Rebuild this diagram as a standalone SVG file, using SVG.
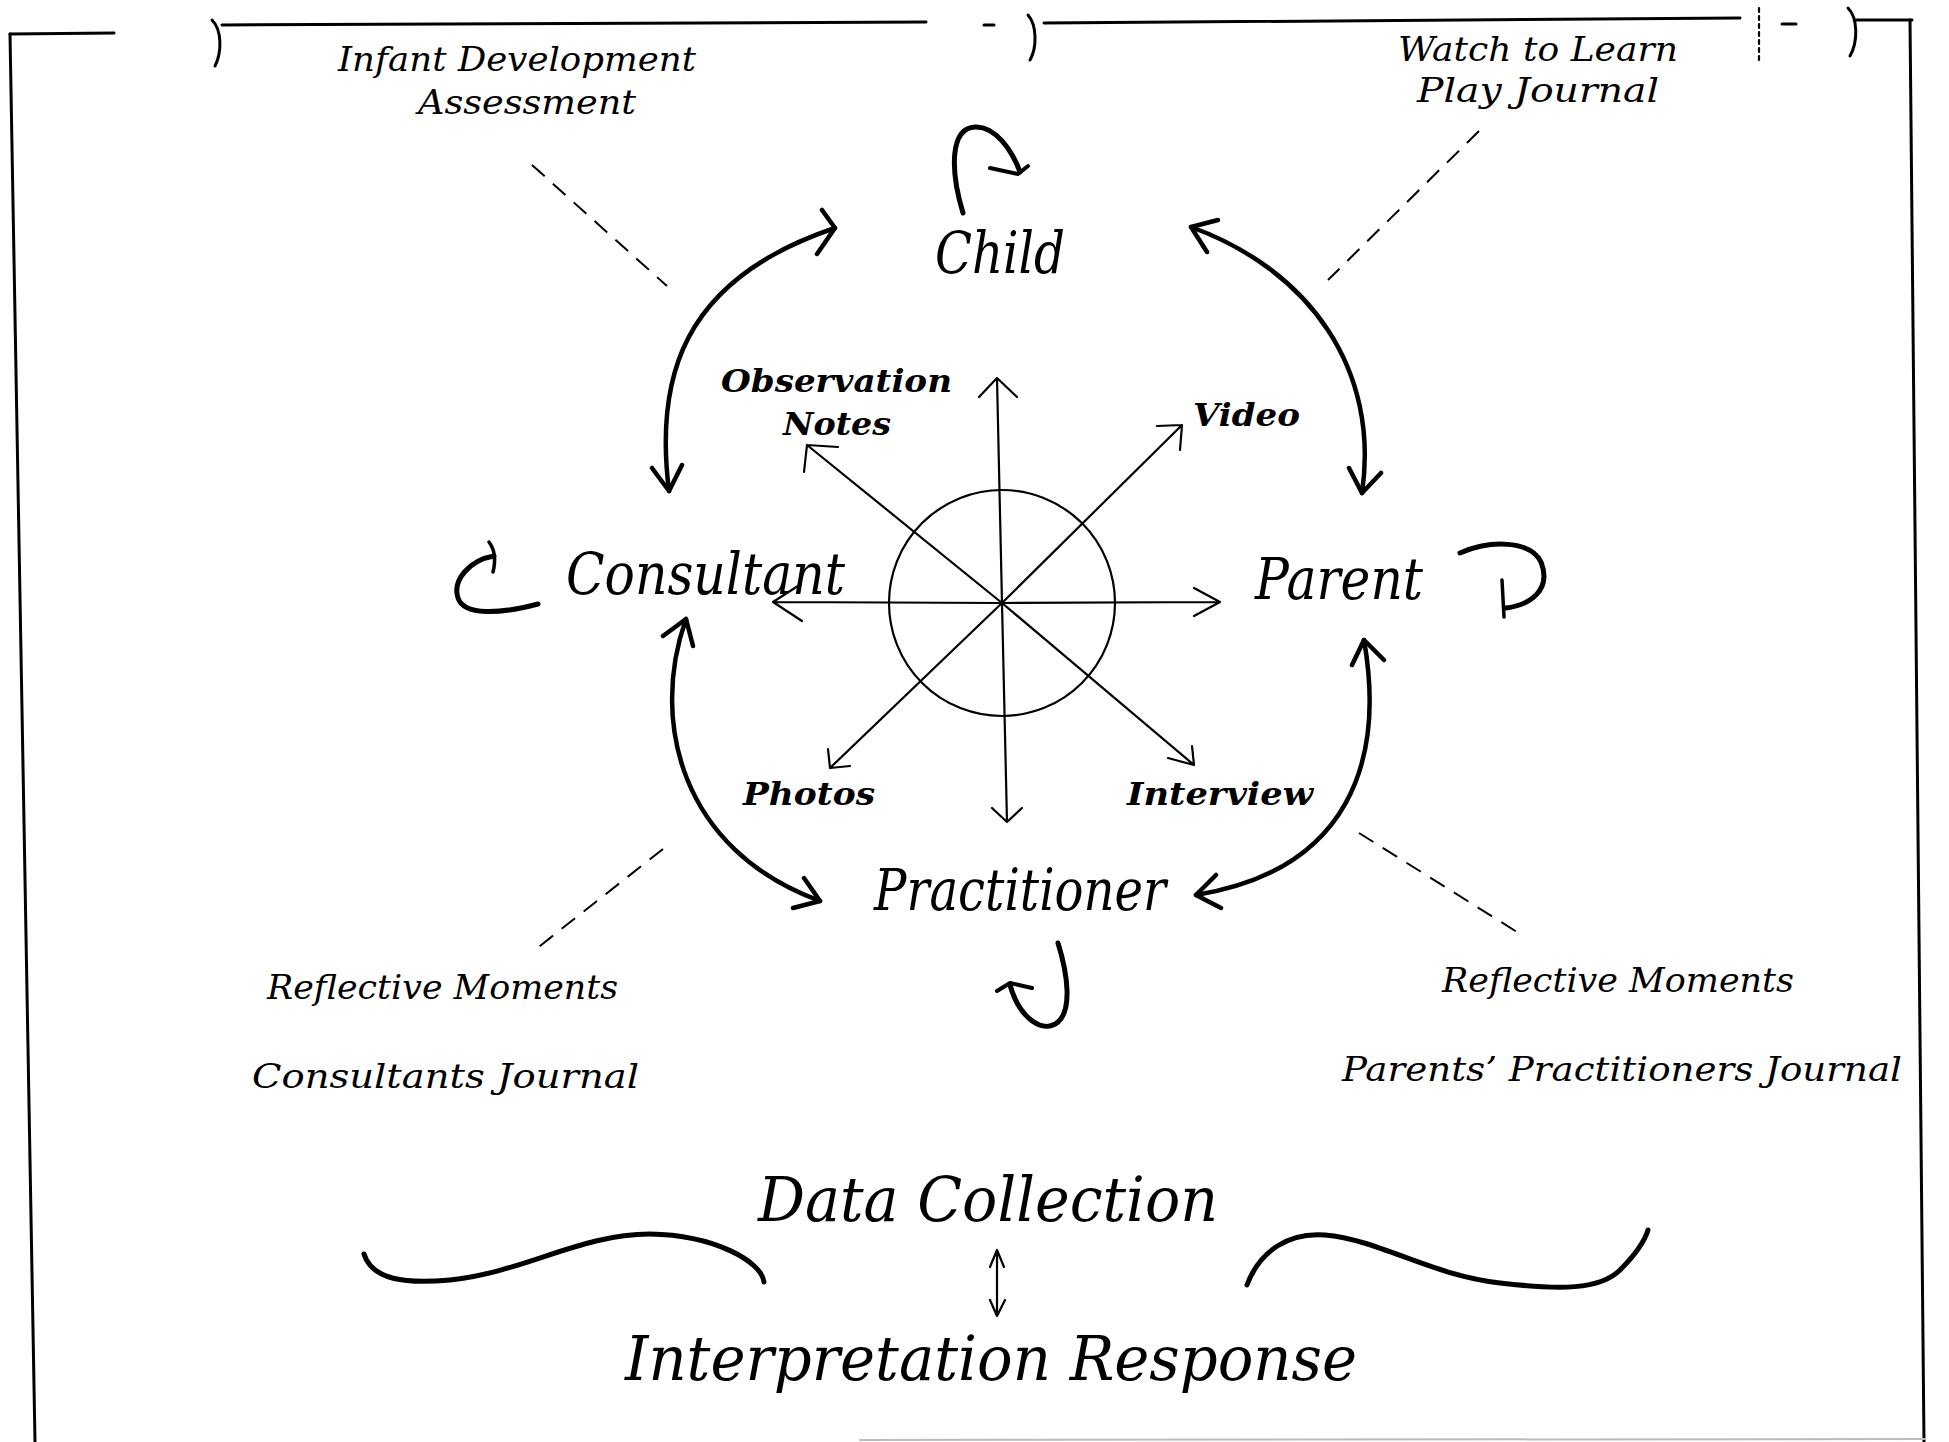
<svg xmlns="http://www.w3.org/2000/svg" width="1949" height="1442" viewBox="0 0 1949 1442">
<style>
.ln{stroke:#000;fill:none;stroke-linecap:round;stroke-linejoin:round}
.thin{stroke-width:2.2}
.thick{stroke-width:4.5}
.loop{stroke-width:5}
.dash{stroke-width:2;stroke-dasharray:17 11;stroke-linecap:butt}
.frame{stroke-width:3}
text{font-family:"DejaVu Serif","Liberation Serif",serif;font-style:italic;fill:#000}
.node{font-size:58px}
.src{font-size:32px;font-weight:bold}
.note{font-size:33px}
.big{font-size:62px}
</style>
<rect width="1949" height="1442" fill="#fff"/>
<g id="frame" class="ln">
<path class="frame" d="M10,34 L114,33"/>
<path class="frame" d="M10,34 L35,1442"/>
<path class="frame" d="M212,20 C222,30 222,52 215,66"/>
<path class="frame" d="M222,25 L926,22"/>
<path class="frame" d="M984,25 L994,25"/>
<path class="frame" d="M1028,15 C1037,25 1037,48 1030,60"/>
<path class="frame" d="M1044,23 L1740,18"/>
<path class="thin" d="M1759,8 L1759,64" style="stroke-dasharray:4 4"/>
<path class="frame" d="M1782,24 L1796,24"/>
<path class="frame" d="M1848,8 C1858,18 1858,42 1850,56"/>
<path class="frame" d="M1856,20 L1912,20"/>
<path class="frame" d="M1910,20 L1924,1442"/>
<path d="M860,1440 L1925,1439" style="stroke:#bbb;stroke-width:2"/>
</g>
<g id="hub" class="ln">
<circle class="thin" cx="1002" cy="603" r="113"/>
</g>
<g id="child"><text class="node" x="935" y="273" textLength="130" lengthAdjust="spacingAndGlyphs">Child</text></g>
<g id="consultant"><text class="node" x="566" y="594" textLength="279" lengthAdjust="spacingAndGlyphs">Consultant</text></g>
<g id="parent"><text class="node" x="1255" y="599" textLength="168" lengthAdjust="spacingAndGlyphs">Parent</text></g>
<g id="practitioner"><text class="node" x="874" y="910" textLength="292" lengthAdjust="spacingAndGlyphs">Practitioner</text></g>
<g id="observation"><text class="src" x="721" y="392" textLength="231" lengthAdjust="spacingAndGlyphs">Observation</text><text class="src" x="783" y="435" textLength="108" lengthAdjust="spacingAndGlyphs">Notes</text></g>
<g id="video"><text class="src" x="1193" y="426" textLength="107" lengthAdjust="spacingAndGlyphs">Video</text></g>
<g id="photos"><text class="src" x="743" y="805" textLength="132" lengthAdjust="spacingAndGlyphs">Photos</text></g>
<g id="interview"><text class="src" x="1127" y="805" textLength="186" lengthAdjust="spacingAndGlyphs">Interview</text></g>
<g id="infant-assessment"><text class="note" x="338" y="71" textLength="358" lengthAdjust="spacingAndGlyphs">Infant Development</text><text class="note" x="418" y="114" textLength="218" lengthAdjust="spacingAndGlyphs">Assessment</text></g>
<g id="watch-to-learn"><text class="note" x="1398" y="61" textLength="280" lengthAdjust="spacingAndGlyphs">Watch to Learn</text><text class="note" x="1417" y="102" textLength="242" lengthAdjust="spacingAndGlyphs">Play Journal</text></g>
<g id="consultant-journal"><text class="note" x="267" y="999" textLength="351" lengthAdjust="spacingAndGlyphs">Reflective Moments</text><text class="note" x="252" y="1088" textLength="387" lengthAdjust="spacingAndGlyphs">Consultants Journal</text></g>
<g id="parent-journal"><text class="note" x="1442" y="992" textLength="352" lengthAdjust="spacingAndGlyphs">Reflective Moments</text><text class="note" x="1342" y="1081" textLength="560" lengthAdjust="spacingAndGlyphs">Parents’ Practitioners Journal</text></g>
<g id="data-collection"><text class="big" x="758" y="1221" textLength="460" lengthAdjust="spacingAndGlyphs">Data Collection</text></g>
<g id="interpretation-response"><text class="big" x="625" y="1380" textLength="732" lengthAdjust="spacingAndGlyphs">Interpretation Response</text></g>
<g id="connectors" class="ln">
<!-- hub spokes -->
<path class="thin" d="M1002,603 L997,378 M979,397 L997,378 L1017,397"/>
<path class="thin" d="M1002,603 L1007,822 M992,808 L1007,822 L1022,808"/>
<path class="thin" d="M1002,603 L773,602 M801,584 L773,602 L802,621"/>
<path class="thin" d="M1002,603 L1220,602 M1194,588 L1220,602 L1194,616"/>
<path class="thin" d="M1002,603 L807,445 M838,447 L807,445 L804,472"/>
<path class="thin" d="M1002,603 L1182,425 M1157,426 L1182,425 L1180,450"/>
<path class="thin" d="M1002,603 L830,768 M828,749 L830,768 L850,766"/>
<path class="thin" d="M1002,603 L1194,765 M1192,746 L1194,765 L1168,758"/>
<!-- thick double arrows between nodes -->
<path class="thick" d="M669,491 C655,380 680,280 835,228"/>
<path class="thick" d="M652,468 L669,491 L682,465 M822,210 L835,228 L817,254"/>
<path class="thick" d="M1191,227 C1310,270 1380,370 1362,493"/>
<path class="thick" d="M1218,220 L1191,227 L1207,252 M1381,473 L1362,493 L1349,468"/>
<path class="thick" d="M686,619 C650,720 680,850 820,901"/>
<path class="thick" d="M663,636 L686,619 L693,646 M804,878 L820,901 L793,908"/>
<path class="thick" d="M1364,640 C1385,760 1350,870 1196,895"/>
<path class="thick" d="M1352,665 L1364,640 L1384,660 M1216,875 L1196,895 L1221,908"/>
<!-- self loops -->
<path class="loop" d="M963,213 C950,170 950,128 975,127 C995,126 1012,150 1020,172"/>
<path class="loop" d="M990,168 L1018,174 L1028,166" style="stroke-width:4"/>
<path class="loop" d="M494,556 C470,560 452,580 458,598 C464,616 500,614 538,604"/>
<path class="loop" d="M489,542 C495,550 496,560 493,572" style="stroke-width:3.5"/>
<path class="loop" d="M1460,553 C1490,540 1530,540 1541,562 C1552,590 1530,605 1506,608"/>
<path class="loop" d="M1502,580 L1504,617" style="stroke-width:3.5"/>
<path class="loop" d="M1058,943 C1068,975 1072,1010 1058,1022 C1044,1034 1020,1020 1010,985"/>
<path class="loop" d="M997,991 L1010,983 L1032,988" style="stroke-width:4"/>
<!-- dashed leaders -->
<path class="dash" d="M532,165 L667,286"/>
<path class="dash" d="M1479,131 L1328,280"/>
<path class="dash" d="M663,849 L531,953"/>
<path class="dash" d="M1359,833 L1517,932"/>
<!-- bottom braces and double arrow -->
<path class="ln" style="stroke-width:5" d="M364,1254 C372,1280 405,1284 450,1280 C525,1272 580,1234 650,1234 C715,1235 762,1262 764,1282"/>
<path class="ln" style="stroke-width:5" d="M1247,1285 C1260,1250 1290,1232 1325,1235 C1380,1240 1430,1275 1500,1283 C1560,1290 1600,1290 1620,1270 C1635,1255 1645,1240 1648,1230"/>
<path class="thin" d="M997,1250 L997,1316 M990,1267 L997,1250 L1004,1267 M990,1300 L997,1316 L1005,1300"/>
</g>
</svg>
